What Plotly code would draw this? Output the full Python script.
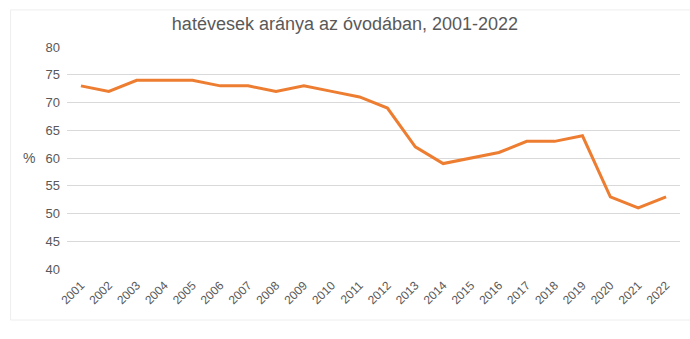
import plotly.graph_objects as go

years = [str(y) for y in range(2001, 2023)]
values = [73, 72, 74, 74, 74, 73, 73, 72, 73, 72, 71, 69, 62, 59, 60, 61, 63, 63, 64, 53, 51, 53]
y_ticks = [40, 45, 50, 55, 60, 65, 70, 75, 80]

fig = go.Figure()
fig.add_trace(go.Scatter(x=years, y=values, mode="lines",
                         line=dict(color="#ED7D31", width=3), hoverinfo="x+y"))

fig.update_layout(
    width=690, height=339,
    margin=dict(l=67, r=10, t=47, b=70),
    paper_bgcolor="white", plot_bgcolor="white",
    font=dict(family="Liberation Sans, Arial, sans-serif", color="#595959", size=12),
    title=dict(text="hatévesek aránya az óvodában, 2001-2022", x=0.5, xanchor="center",
               y=0.93, yanchor="middle", font=dict(size=18, color="#595959")),
    showlegend=False,
    xaxis=dict(type="category", tickangle=-45, showgrid=False, showline=False,
               range=[-0.5, len(years) - 0.5],
               ticks="", ticklabelstandoff=6, tickfont=dict(size=12, color="#595959")),
    yaxis=dict(range=[40, 80], tickvals=y_ticks, showgrid=True, gridcolor="#D9D9D9",
               gridwidth=1, zeroline=False, showline=False, ticks="",
               ticklabelstandoff=6,
               tickfont=dict(size=13, color="#595959")),
    annotations=[dict(text="%", xref="paper", yref="paper", x=-0.049, y=0.5,
                      xanchor="right", yanchor="middle", showarrow=False,
                      font=dict(size=14, color="#595959"))],
    shapes=[dict(type="rect", xref="paper", yref="paper", x0=-0.092, x1=1.02,
                 y0=-0.23, y1=1.167, line=dict(color="#EEEEEE", width=1), layer="below")],
)
fig.write_html("out.html")
